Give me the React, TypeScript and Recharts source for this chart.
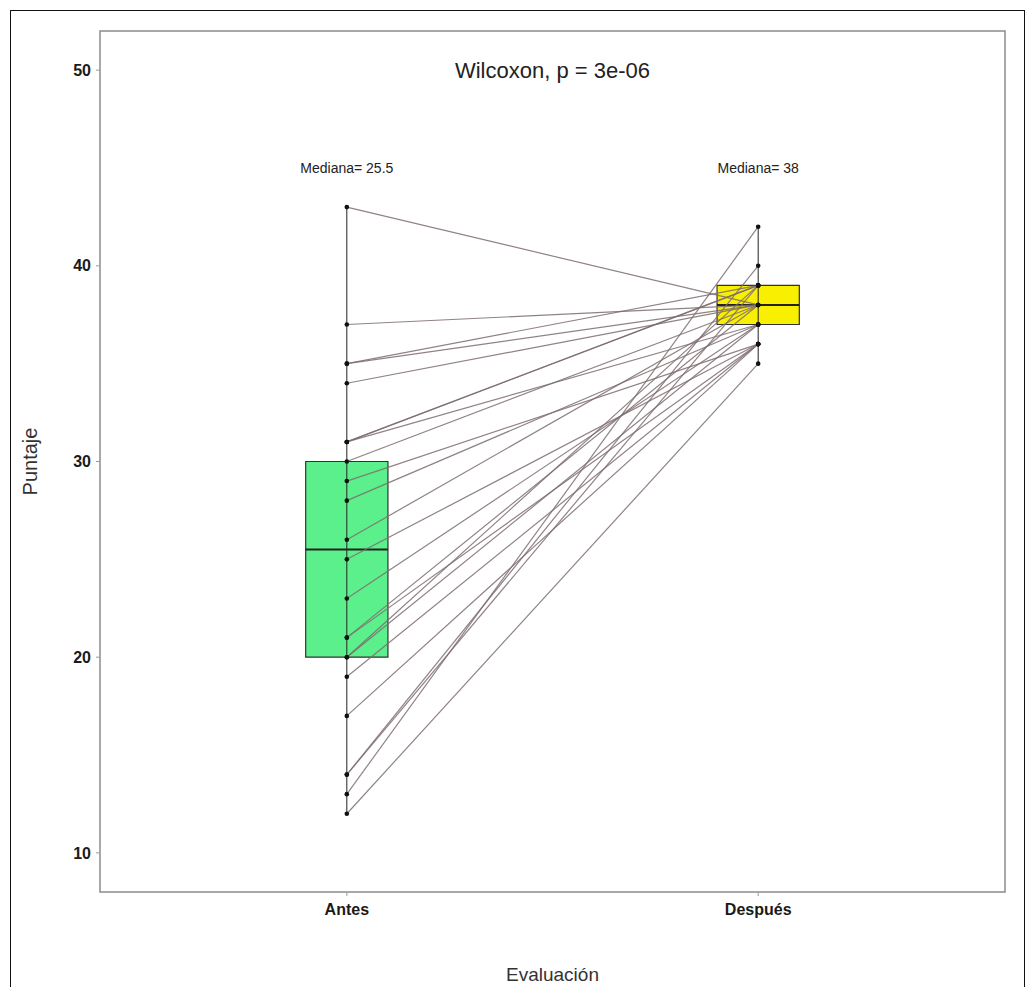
import {
  ComposedChart,
  Line,
  Scatter,
  XAxis,
  YAxis,
  ReferenceArea,
  ReferenceLine,
  ReferenceDot,
} from 'recharts';

// categories on the x axis (positions 1 and 2)
const CATEGORIES = ['Antes', 'Después'];

// paired scores, one entry per subject
const ANTES = [43, 37, 35, 35, 34, 31, 31, 31, 30, 29, 28, 26, 25, 23, 21, 21, 20, 20, 19, 17, 14, 14, 13, 12];
const DESPUES = [38, 38, 38, 39, 38, 37, 39, 39, 38, 36, 37, 38, 36, 37, 36, 38, 37, 39, 36, 36, 40, 39, 42, 35];

// boxplot stats
const BOX_Q1 = [20, 37];
const BOX_MEDIAN = [25.5, 38];
const BOX_Q3 = [30, 39];
const WHISKER_LOW = [12, 35];
const WHISKER_HIGH = [43, 42];
const BOX_COLORS = ['#5cf08c', '#f8f000'];
const MEDIAN_LABELS = ['Mediana= 25.5', 'Mediana= 38'];

const Y_TICKS = [10, 20, 30, 40, 50];
const TITLE = 'Wilcoxon, p = 3e-06';

const FONT = '"Liberation Sans", Arial, sans-serif';
const BOX_HALF = 0.1;

const pairs = ANTES.map((a, i) => [
  { x: 1, y: a },
  { x: 2, y: DESPUES[i] },
]);

const points = [
  ...ANTES.map((y) => ({ x: 1, y })),
  ...DESPUES.map((y) => ({ x: 2, y })),
];

export default function App() {
  return (
    <div style={{ position: 'absolute', left: 0, top: 0, width: 1033, height: 987, background: '#fff', overflow: 'hidden', fontFamily: FONT }}>
      <div
        style={{
          position: 'absolute',
          left: 10,
          top: 10,
          width: 1013,
          height: 1000,
          border: '1px solid #111',
        }}
      />
      <div style={{ position: 'absolute', left: 0, top: 0 }}>
        <ComposedChart
          width={1033}
          height={987}
          margin={{ top: 31, right: 28, bottom: 0, left: 10 }}
        >
          <XAxis
            type="number"
            dataKey="x"
            domain={[0.4, 2.6]}
            ticks={[1, 2]}
            tickFormatter={(v: number) => CATEGORIES[v - 1]}
            axisLine={false}
            tickLine={{ stroke: '#999' }}
            tickSize={4}
            tickMargin={8}
            height={95}
            tick={{ fontSize: 16, fontWeight: 700, fill: '#1a1a1a', fontFamily: FONT }}
            label={{ value: 'Evaluación', position: 'insideBottom', offset: 6, fontSize: 19, fill: '#333', fontFamily: FONT }}
          />
          <YAxis
            type="number"
            dataKey="y"
            domain={[8, 52]}
            ticks={Y_TICKS}
            axisLine={false}
            tickLine={{ stroke: '#999' }}
            tickSize={4}
            tickMargin={5}
            width={90}
            tick={{ fontSize: 16, fontWeight: 700, fill: '#1a1a1a', fontFamily: FONT }}
            label={{
              value: 'Puntaje',
              angle: -90,
              position: 'insideLeft',
              offset: 20,
              fontSize: 20,
              fill: '#333',
              fontFamily: FONT,
              style: { textAnchor: 'middle' },
            }}
          />

          {/* panel border */}
          <ReferenceArea x1={0.4} x2={2.6} y1={8} y2={52} fill="none" stroke="#8c8c8c" strokeWidth={1.5} ifOverflow="visible" />

          {/* whiskers */}
          {CATEGORIES.map((c, i) => (
            <ReferenceLine
              key={`w-${c}`}
              segment={[{ x: i + 1, y: WHISKER_LOW[i] }, { x: i + 1, y: WHISKER_HIGH[i] }]}
              stroke="#222"
              strokeWidth={1}
            />
          ))}

          {/* boxes */}
          {CATEGORIES.map((c, i) => (
            <ReferenceArea
              key={`b-${c}`}
              x1={i + 1 - BOX_HALF}
              x2={i + 1 + BOX_HALF}
              y1={BOX_Q1[i]}
              y2={BOX_Q3[i]}
              fill={BOX_COLORS[i]}
              fillOpacity={1}
              stroke="#333"
              strokeWidth={1.2}
            />
          ))}
          {CATEGORIES.map((c, i) => (
            <ReferenceLine
              key={`m-${c}`}
              segment={[{ x: i + 1 - BOX_HALF, y: BOX_MEDIAN[i] }, { x: i + 1 + BOX_HALF, y: BOX_MEDIAN[i] }]}
              stroke="#222"
              strokeWidth={2}
            />
          ))}

          {/* paired lines */}
          {pairs.map((d, i) => (
            <Line
              key={`p-${i}`}
              data={d}
              dataKey="y"
              stroke="#7d6c6e"
              strokeOpacity={0.85}
              strokeWidth={1.2}
              dot={false}
              activeDot={false}
              legendType="none"
              isAnimationActive={false}
            />
          ))}

          <Scatter data={points} dataKey="y" fill="#111" shape={(p: any) => <circle cx={p.cx} cy={p.cy} r={2.3} fill="#111" />} isAnimationActive={false} />

          {/* annotations */}
          <ReferenceDot
            x={1.5}
            y={50}
            r={0}
            fill="none"
            stroke="none"
            label={{ value: TITLE, position: 'center', fontSize: 22, fill: '#222', fontFamily: FONT }}
          />
          {CATEGORIES.map((c, i) => (
            <ReferenceDot
              key={`l-${c}`}
              x={i + 1}
              y={45}
              r={0}
              fill="none"
              stroke="none"
              label={{ value: MEDIAN_LABELS[i], position: 'center', fontSize: 14, fill: '#222', fontFamily: FONT }}
            />
          ))}
        </ComposedChart>
      </div>
    </div>
  );
}
